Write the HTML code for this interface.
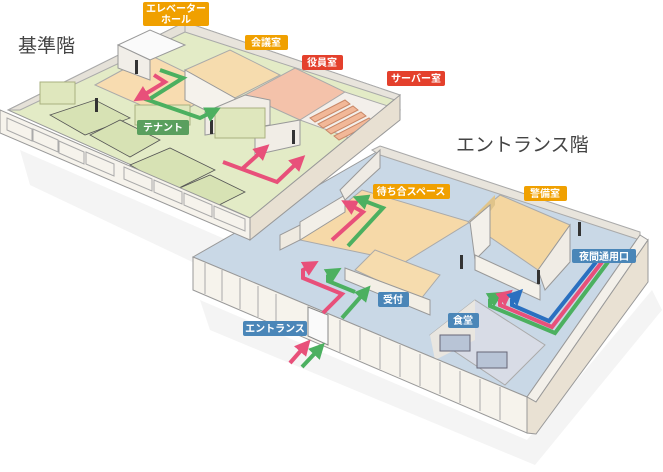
<!DOCTYPE html>
<html><head><meta charset="utf-8"><style>
html,body{margin:0;padding:0;background:#fff;width:663px;height:472px;overflow:hidden}
svg{display:block}
text{font-family:"Liberation Sans","Noto Sans CJK JP",sans-serif}
.lb{font-weight:bold;fill:#fff;font-size:10px}
</style></head><body>
<svg width="663" height="472" viewBox="0 0 663 472" xmlns="http://www.w3.org/2000/svg">
<defs>
<marker id="mp" markerWidth="4" markerHeight="4" refX="1.5" refY="2" orient="auto" markerUnits="strokeWidth"><path d="M0,0 L4,2 L0,4 z" fill="#e8507a"/></marker>
<marker id="mg" markerWidth="4" markerHeight="4" refX="1.5" refY="2" orient="auto" markerUnits="strokeWidth"><path d="M0,0 L4,2 L0,4 z" fill="#4cb060"/></marker>
<marker id="mb" markerWidth="4" markerHeight="4" refX="1.5" refY="2" orient="auto" markerUnits="strokeWidth"><path d="M0,0 L4,2 L0,4 z" fill="#2a70c0"/></marker>
</defs>
<!-- shadows -->
<polygon points="20,150 250,250 205,268 30,185" fill="#f4f4f4"/>
<polygon points="200,300 527,440 652,290 662,310 535,465 210,330" fill="#f4f4f4"/>

<!-- LOWER FLOOR -->
<polygon points="193,257 380,150 640,235 527,397" fill="#c9d8e6" stroke="#999" stroke-width="1"/>
<polygon points="372,150 380,146 640,232 640,240 380,155" fill="#e8e4dc" stroke="#aaa"/>
<polygon points="300,240 362,190 470,222 405,262" fill="#f6d9a8" stroke="#aaa"/>
<polygon points="468,222 500,195 570,225 538,270" fill="#f4d6a0" stroke="#aaa"/>
<polygon points="475,215 495,195 495,205 480,225" fill="#e0c48a"/>
<polygon points="355,270 375,250 440,275 420,300" fill="#f6dcae" stroke="#aaa"/>
<polygon points="345,268 430,300 430,315 345,280" fill="#f3efe6" stroke="#999"/>
<polygon points="430,335 475,300 545,345 505,385" fill="#d8dce6" stroke="#aaa"/>
<polygon points="430,335 475,300 475,340 435,360" fill="#e9e6e0"/>
<rect x="440" y="335" width="30" height="16" fill="#b8c4d6" stroke="#667"/>
<rect x="477" y="352" width="30" height="16" fill="#b8c4d6" stroke="#667"/>
<polygon points="300,240 300,222 345,195 345,212" fill="#f2efe8" stroke="#999"/>
<polygon points="280,250 280,235 300,225 300,240" fill="#efeae0" stroke="#999"/>
<polygon points="340,190 380,150 380,168 345,200" fill="#efebe4" stroke="#999"/>
<polygon points="470,222 490,205 490,245 475,260" fill="#f3f0ea" stroke="#999"/>
<polygon points="538,270 570,225 570,262 545,290" fill="#f0ece5" stroke="#999"/>
<polygon points="475,255 540,285 540,300 475,270" fill="#f4f1ea" stroke="#999"/>
<!-- front wall lower -->
<polygon points="193,257 527,397 527,433 193,290" fill="#f6f3ec" stroke="#999"/>
<polygon points="527,397 640,235 648,240 536,402" fill="#f3f0ea" stroke="#999"/>
<polygon points="536,402 648,240 648,282 536,434 527,433 527,397" fill="#e9e1d3" stroke="#999"/>
<g stroke="#aaa" fill="none">
<line x1="205" y1="263" x2="205" y2="294"/><line x1="222" y1="270" x2="222" y2="301"/><line x1="240" y1="278" x2="240" y2="309"/><line x1="258" y1="286" x2="258" y2="317"/><line x1="276" y1="294" x2="276" y2="325"/>
<line x1="340" y1="320" x2="340" y2="352"/><line x1="360" y1="328" x2="360" y2="360"/><line x1="380" y1="337" x2="380" y2="369"/><line x1="400" y1="345" x2="400" y2="377"/><line x1="420" y1="354" x2="420" y2="386"/><line x1="440" y1="362" x2="440" y2="394"/><line x1="460" y1="371" x2="460" y2="403"/><line x1="480" y1="379" x2="480" y2="411"/><line x1="500" y1="387" x2="500" y2="420"/>
</g>
<polygon points="308,307 328,315 328,345 308,336" fill="#fafafa" stroke="#888"/>

<!-- UPPER FLOOR -->
<polygon points="8,110 185,22 400,95 250,218" fill="#e3ebc6" stroke="#999"/>
<polygon points="8,110 185,22 185,32 20,110" fill="#e5e1d8" stroke="#aaa"/>
<polygon points="185,22 400,95 395,100 185,32" fill="#e8e4dc" stroke="#aaa"/>
<polygon points="95,85 150,55 222,90 170,118" fill="#f8dcb0" stroke="#aaa"/>
<polygon points="118,45 150,30 185,45 150,60" fill="#fafafa" stroke="#999"/>
<polygon points="118,45 150,60 150,80 118,68" fill="#f1eee8" stroke="#999"/>
<polygon points="185,70 230,50 280,75 235,98" fill="#f6dcae" stroke="#aaa"/>
<polygon points="185,70 235,98 235,125 185,100" fill="#f5f2ec" stroke="#999"/>
<polygon points="245,95 295,68 345,92 300,120" fill="#f4c2aa" stroke="#aaa"/>
<polygon points="300,120 345,92 400,110 355,140" fill="#f3efea" stroke="#aaa"/>
<g fill="#f2b898" stroke="#c98868">
<polygon points="310,118 345,100 350,104 315,122"/><polygon points="318,124 353,106 358,110 323,128"/><polygon points="326,130 361,112 366,116 331,134"/><polygon points="334,136 369,118 374,122 339,140"/>
</g>
<polygon points="205,112 245,95 270,100 270,125 205,135" fill="#f1ede6" stroke="#999"/>
<polygon points="255,128 300,120 300,145 255,155" fill="#f1ede6" stroke="#999"/>
<rect x="40" y="82" width="35" height="22" fill="#dfe7bd" stroke="#aab080"/>
<rect x="135" y="105" width="55" height="20" fill="#dfe7bd" stroke="#aab080"/>
<rect x="215" y="108" width="50" height="30" fill="#dfe7bd" stroke="#aab080"/>
<g stroke="#555" fill="#d7e2b4" stroke-width="0.8">
<polygon points="50,115 95,100 130,118 85,135"/><polygon points="90,135 120,120 160,140 130,157"/>
<polygon points="130,165 170,148 215,170 175,190"/><polygon points="175,190 210,175 245,192 215,207"/>
</g>
<polygon points="0,110 250,218 250,240 0,133" fill="#f6f3ec" stroke="#999"/>
<polygon points="250,218 400,95 400,120 250,240" fill="#e8e0d2" stroke="#999"/>
<g stroke="#aaa" fill="none">
<polygon points="7,118 32,129 32,141 7,130"/><polygon points="33,129 58,140 58,152 33,141"/><polygon points="59,141 84,152 84,164 59,153"/><polygon points="86,152 114,164 114,176 86,164"/>
<polygon points="124,167 152,179 152,191 124,179"/><polygon points="154,180 182,192 182,204 154,192"/><polygon points="184,193 212,205 212,217 184,205"/><polygon points="214,206 245,219 245,231 214,218"/>
</g>

<g fill="#333"><rect x="95" y="98" width="3" height="14"/><rect x="292" y="130" width="3" height="14"/><rect x="210" y="120" width="3" height="14"/><rect x="578" y="222" width="3" height="14"/><rect x="537" y="270" width="3" height="14"/><rect x="460" y="255" width="3" height="14"/><rect x="135" y="60" width="3" height="14"/></g>

<!-- ARROWS -->
<g fill="none" stroke-width="4" stroke-linejoin="miter">
<polyline points="160,70 183,78 148,100 200,118 212,112" stroke="#4cb060" marker-end="url(#mg)"/>
<polyline points="154,75 165,82 142,96" stroke="#e8507a" marker-end="url(#mp)"/>
<polyline points="223,162 277,182 298,162" stroke="#e8507a" marker-end="url(#mp)"/>
<polyline points="242,169 262,151" stroke="#e8507a" marker-end="url(#mp)"/>
<polyline points="290,363 304,347" stroke="#e8507a" marker-end="url(#mp)"/>
<polyline points="302,367 318,350" stroke="#4cb060" marker-end="url(#mg)"/>
<polyline points="323,313 342,294 303,278 303,270 310,266" stroke="#e8507a" marker-end="url(#mp)"/>
<polyline points="342,318 364,293" stroke="#4cb060" marker-end="url(#mg)"/>
<polyline points="355,292 328,281 328,276 333,273" stroke="#4cb060" marker-end="url(#mg)"/>
<polyline points="332,240 363,212 350,205" stroke="#e8507a" marker-end="url(#mp)"/>
<polyline points="348,246 383,208 362,200" stroke="#4cb060" marker-end="url(#mg)"/>
<polyline points="608,262 555,333 490,306 490,300 495,297" stroke="#4cb060" marker-end="url(#mg)"/>
<polyline points="602,262 552,327 500,305 500,300 505,296" stroke="#e8507a" marker-end="url(#mp)"/>
<polyline points="596,262 549,321 512,305 512,300 516,296" stroke="#2a70c0" marker-end="url(#mb)"/>
</g>

<text x="18" y="52" font-size="19" fill="#444">基準階</text>
<text x="456" y="151" font-size="19" fill="#444">エントランス階</text>

<rect x="143" y="2" width="66" height="24" rx="2" fill="#f0a000"/>
<text class="lb" x="176" y="12" text-anchor="middle">エレベーター</text>
<text class="lb" x="176" y="23" text-anchor="middle">ホール</text>
<rect x="245" y="35" width="43" height="15" rx="2" fill="#f0a000"/><text class="lb" x="266" y="46" text-anchor="middle">会議室</text>
<rect x="302" y="55" width="41" height="15" rx="2" fill="#e4402c"/><text class="lb" x="322" y="66" text-anchor="middle">役員室</text>
<rect x="387" y="71" width="58" height="15" rx="2" fill="#e4402c"/><text class="lb" x="416" y="82" text-anchor="middle">サーバー室</text>
<rect x="137" y="120" width="52" height="15" rx="2" fill="#5a9f5e"/><text class="lb" x="163" y="131" text-anchor="middle">テナント</text>
<rect x="373" y="184" width="77" height="15" rx="2" fill="#f0a000"/><text class="lb" x="411" y="195" text-anchor="middle">待ち合スペース</text>
<rect x="524" y="186" width="43" height="15" rx="2" fill="#f0a000"/><text class="lb" x="545" y="197" text-anchor="middle">警備室</text>
<rect x="572" y="249" width="64" height="14" rx="2" fill="#4a86b8"/><text class="lb" x="604" y="260" text-anchor="middle">夜間通用口</text>
<rect x="378" y="292" width="31" height="15" rx="2" fill="#4a86b8"/><text class="lb" x="393" y="303" text-anchor="middle">受付</text>
<rect x="448" y="313" width="31" height="15" rx="2" fill="#4a86b8"/><text class="lb" x="463" y="324" text-anchor="middle">食堂</text>
<rect x="243" y="321" width="64" height="15" rx="2" fill="#4a86b8"/><text class="lb" x="275" y="332" text-anchor="middle">エントランス</text>
</svg>
</body></html>
